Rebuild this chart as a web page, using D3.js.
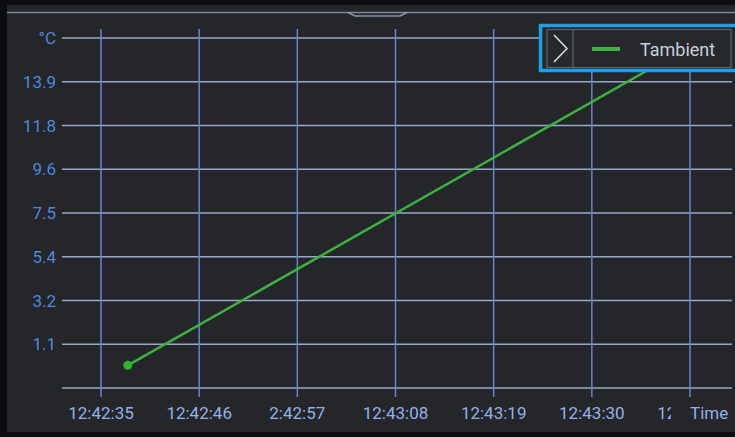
<!DOCTYPE html>
<html><head><meta charset="utf-8">
<script src="https://cdn.jsdelivr.net/npm/d3@7"></script>
<style>html,body{margin:0;padding:0;background:#000;overflow:hidden}svg{display:block}</style>
</head><body>
<svg id="c" width="735" height="437"></svg>
<script>
// ---- data ----
const seriesName = "Tambient";
const times = ["12:42:38", "12:43:41"];
const values = [0.1, 15.6];
const xTickTimes = ["12:42:35","12:42:46","12:42:57","12:43:08","12:43:19","12:43:30","12:43:41"];
const xTickLabels = ["12:42:35","12:42:46","2:42:57","12:43:08","12:43:19","12:43:30","12"];
const yTickValues = [-1.0, 1.125, 3.25, 5.375, 7.5, 9.625, 11.75, 13.875, 16.0];
const yTickLabels = ["", "1.1", "3.2", "5.4", "7.5", "9.6", "11.8", "13.9", "°C"];
const xUnit = "Time";

const parse = d3.timeParse("%H:%M:%S");
const fmt = d3.timeFormat("%H:%M:%S");
const svg = d3.select("#c");
const W = 735, H = 437;
const font = "Roboto, 'Noto Sans', sans-serif";
const BG = "#24262a";

// background (screen + black bezels)
svg.append("rect").attr("width", W).attr("height", H).attr("fill", "#0c0d0f");
svg.append("rect").attr("x", 7).attr("y", 5).attr("width", W - 7).attr("height", 427).attr("fill", BG);
// top status line + handle
svg.append("line").attr("x1", 7).attr("x2", W).attr("y1", 12.5).attr("y2", 12.5)
  .attr("stroke", "#7e8796").attr("stroke-width", 1.5);
svg.append("path").attr("d", "M348,12.5 L355,16 L400,16 L407,12.5").attr("fill", "none")
  .attr("stroke", "#8a94a8").attr("stroke-width", 1.5);

const x = d3.scaleTime().domain([parse(xTickTimes[0]), parse(xTickTimes[xTickTimes.length - 1])]).range([101, 690]);
const y = d3.scaleLinear().domain([-1, 16]).range([388, 38]);

// horizontal grid
svg.append("g").selectAll("line").data(yTickValues).join("line")
  .attr("x1", 62).attr("x2", 732)
  .attr("y1", d => y(d)).attr("y2", d => y(d))
  .attr("stroke", "#98a8cc").attr("stroke-width", 1.5);
// vertical grid
svg.append("g").selectAll("line").data(xTickTimes).join("line")
  .attr("x1", d => x(parse(d))).attr("x2", d => x(parse(d)))
  .attr("y1", 29).attr("y2", 397)
  .attr("stroke", "#6684cc").attr("stroke-width", 1.5);

// y labels
svg.append("g").selectAll("text").data(yTickValues).join("text")
  .attr("x", 56).attr("y", d => y(d)).attr("dy", "0.36em")
  .attr("text-anchor", "end").attr("font-family", font).attr("font-size", 17)
  .attr("fill", "#4f88dc").text((d, i) => yTickLabels[i]);

// x labels (the last one is cut off by the unit label, as on the device)
svg.append("defs").append("clipPath").attr("id", "xclip")
  .append("rect").attr("x", 0).attr("y", 395).attr("width", 671).attr("height", 40);
const xl = svg.append("g").attr("clip-path", "url(#xclip)");
xTickTimes.forEach((t, i) => {
  const cx = x(parse(t));
  const lab = xTickLabels[i];
  const full = fmt(parse(t));
  const txt = xl.append("text").attr("y", 419).attr("font-family", font).attr("font-size", 17)
    .attr("fill", "#95b0e8");
  if (lab.length < full.length && full.startsWith(lab)) {
    // truncated label: place where the full label would start
    txt.text(full).attr("x", cx).attr("text-anchor", "middle");
    const w = txt.node().getComputedTextLength();
    txt.text(lab).attr("x", cx - w / 2).attr("text-anchor", "start");
  } else {
    txt.text(lab).attr("x", cx).attr("text-anchor", "middle");
  }
});

// series line
const pts = times.map((t, i) => [parse(t), values[i]]);
svg.append("path").datum(pts)
  .attr("d", d3.line().x(d => x(d[0])).y(d => y(d[1])))
  .attr("fill", "none").attr("stroke", "#3cb33f").attr("stroke-width", 2.5);
svg.append("circle").attr("cx", x(pts[0][0])).attr("cy", y(pts[0][1])).attr("r", 4.5).attr("fill", "#2fb52f");

// x unit label
svg.append("text").attr("x", 690).attr("y", 419).attr("font-family", font).attr("font-size", 17)
  .attr("fill", "#95b0e8").text(xUnit);

// legend
const lg = svg.append("g");
lg.append("rect").attr("x", 540.5).attr("y", 25.5).attr("width", 210).attr("height", 45)
  .attr("fill", "#26282c").attr("stroke", "#1e9fe3").attr("stroke-width", 3.5);
lg.append("rect").attr("x", 547).attr("y", 29.5).attr("width", 184).attr("height", 38)
  .attr("fill", "#26282c").attr("stroke", "#5d636d").attr("stroke-width", 1.2);
lg.append("line").attr("x1", 573).attr("x2", 573).attr("y1", 29.5).attr("y2", 67.5)
  .attr("stroke", "#5d636d").attr("stroke-width", 1.2);
lg.append("path").attr("d", "M554,35 L567,48.5 L554,62").attr("fill", "none")
  .attr("stroke", "#d4dae4").attr("stroke-width", 1.6);
lg.append("line").attr("x1", 592).attr("x2", 620).attr("y1", 49).attr("y2", 49)
  .attr("stroke", "#3cb33f").attr("stroke-width", 4);
lg.append("text").attr("x", 640).attr("y", 56).attr("font-family", font).attr("font-size", 18)
  .attr("fill", "#c6cfdc").text(seriesName);
</script>
</body></html>
